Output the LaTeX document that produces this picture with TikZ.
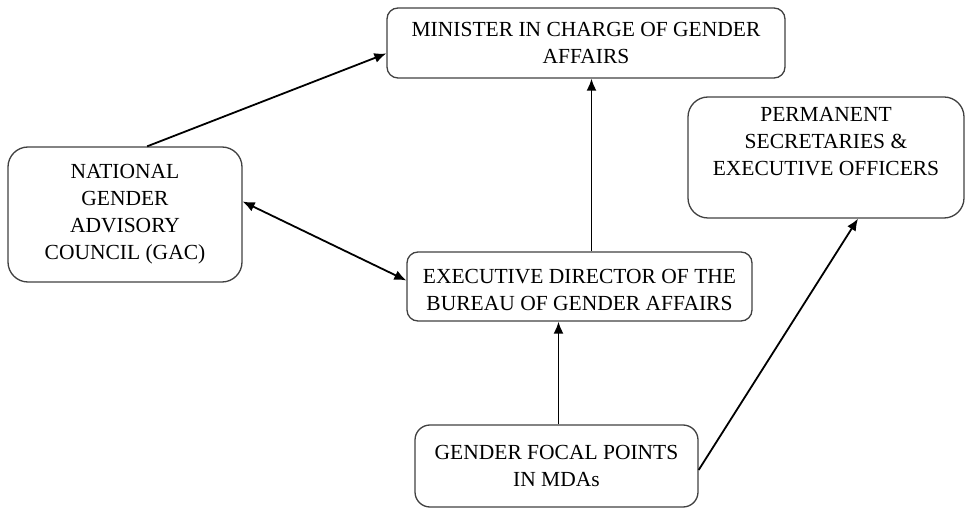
\documentclass[tikz,border=0pt]{standalone}
\usepackage{fontspec}
\setmainfont{Liberation Serif}
\usetikzlibrary{arrows.meta}

\begin{document}
\begin{tikzpicture}[
        %One unit is one pixel of the page, y runs downwards
        x=1pt, y=-1pt,
        box/.style={draw=black!75, line width=1.3pt, rounded corners=11pt,
            align=center, inner sep=0pt,
            font=\fontsize{21.5}{27}\selectfont},
        round box/.style={box, rounded corners=20pt},
        link/.style={line width=1.8pt, ->, >={Latex[length=12pt,width=10pt]}},
        both link/.style={link, <->}
     ]
    \useasboundingbox (0,0) rectangle (966,510);
    % The boxes are placed
    \node[box, minimum width=398pt, minimum height=70pt] (minister) at (586,43)
        {MINISTER IN CHARGE OF GENDER\\AFFAIRS};
    \node[round box, minimum width=276pt, minimum height=121pt] (secretaries) at (826,157.5)
        {PERMANENT\\SECRETARIES \&\\EXECUTIVE OFFICERS\\[6pt]};
    \node[round box, minimum width=234pt, minimum height=135pt] (gac) at (125,214.5)
        {NATIONAL\\GENDER\\ADVISORY\\COUNCIL (GAC)};
    \node[box, minimum width=345pt, minimum height=69pt] (director) at (579.5,286.5)
        {\\[-6pt]EXECUTIVE DIRECTOR OF THE\\BUREAU OF GENDER AFFAIRS};
    \node[box, rounded corners=15pt, minimum width=283pt, minimum height=82pt] (focal) at (556.5,466)
        {GENDER FOCAL POINTS\\IN MDAs};

    % Reporting lines
    \draw[link] (gac.72) -- (minister.183);
    \draw[link] ([xshift=12pt]director.north) -- ([xshift=12pt]director.north |- minister.south);
    \draw[both link] ([yshift=13pt]gac.east) -- ([yshift=6pt]director.west);
    \draw[link] ([xshift=2pt]focal.north) -- ([xshift=2pt]focal.north |- director.south);
    \draw[link] ([yshift=-4pt]focal.east) -- ([xshift=32pt]secretaries.south);
\end{tikzpicture}
\end{document}
